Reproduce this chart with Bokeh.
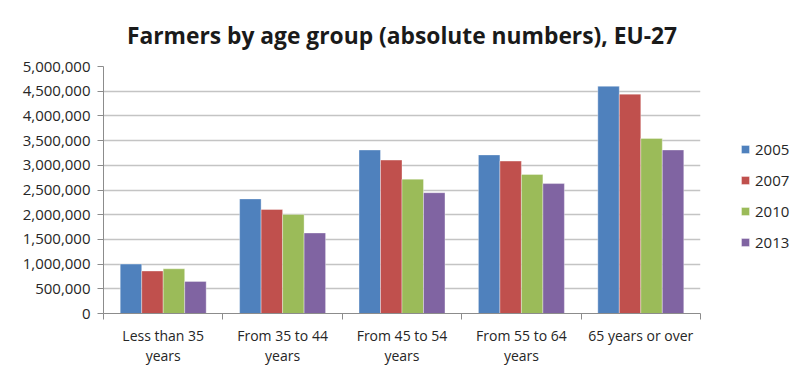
import numpy as np
from bokeh.plotting import figure
from bokeh.models import Range1d, FixedTicker, NumeralTickFormatter, Legend, LegendItem
from bokeh.embed import file_html
from bokeh.resources import INLINE

categories = ["Less than 35\nyears", "From 35 to 44\nyears", "From 45 to 54\nyears",
              "From 55 to 64\nyears", "65 years or over"]
years = ["2005", "2007", "2010", "2013"]
y2005 = [1000000, 2320000, 3310000, 3210000, 4600000]
y2007 = [860000, 2105000, 3105000, 3085000, 4440000]
y2010 = [905000, 2005000, 2720000, 2815000, 3545000]
y2013 = [650000, 1630000, 2445000, 2630000, 3310000]
y_ticks = [0, 500000, 1000000, 1500000, 2000000, 2500000, 3000000, 3500000, 4000000, 4500000, 5000000]

series = [y2005, y2007, y2010, y2013]
colors = ["#4F81BD", "#C0504D", "#9BBB59", "#8064A2"]
offsets = [-0.27, -0.09, 0.09, 0.27]

FONT = "Open Sans"

p = figure(frame_width=597, frame_height=247, output_backend="svg", toolbar_location=None,
           x_range=Range1d(0, len(categories)), y_range=Range1d(0, 5000000),
           min_border_left=103, min_border_top=66, min_border_bottom=54, min_border_right=100,
           title="Farmers by age group (absolute numbers), EU-27")
p.title.align = "center"
p.title.vertical_align = "top"
p.title.text_font = FONT
p.title.text_font_style = "bold"
p.title.text_font_size = "22.8px"
p.title.text_color = "#1a1a1a"
p.title.text_line_height = 0.7
p.title.standoff = 27

centers = np.arange(len(categories)) + 0.5
items = []
for yr, vals, col, off in zip(years, series, colors, offsets):
    r = p.vbar(x=centers + off, top=vals, width=0.18, fill_color=col,
               line_color="white", line_alpha=0.35, line_width=1)
    items.append(LegendItem(label=yr, renderers=[r]))

p.outline_line_color = None
p.xgrid.grid_line_color = None
p.ygrid.grid_line_color = "#c4c4c4"
p.ygrid.grid_line_width = 1.3

# y axis
p.yaxis.ticker = FixedTicker(ticks=y_ticks)
p.yaxis.formatter = NumeralTickFormatter(format="0,0")
p.yaxis.axis_line_color = "#8c8c8c"
p.yaxis.major_tick_line_color = "#8c8c8c"
p.yaxis.major_tick_out = 6
p.yaxis.major_tick_in = 0
p.yaxis.minor_tick_line_color = None
p.yaxis.major_label_text_font = FONT
p.yaxis.major_label_text_font_size = "15px"
p.yaxis.major_label_text_color = "#262626"
p.yaxis.major_label_standoff = 7

# x axis: labels at centres, tick marks at category boundaries
p.xaxis.ticker = FixedTicker(ticks=list(centers), minor_ticks=list(range(len(categories) + 1)))
p.xaxis.major_label_overrides = {float(c): lab for c, lab in zip(centers, categories)}
p.xaxis.axis_line_color = "#8c8c8c"
p.xaxis.major_tick_line_color = None
p.xaxis.minor_tick_line_color = "#8c8c8c"
p.xaxis.minor_tick_out = 6
p.xaxis.minor_tick_in = 0
p.xaxis.major_label_text_font = FONT
p.xaxis.major_label_text_font_size = "14px"
p.xaxis.major_label_text_color = "#262626"
p.xaxis.major_label_text_line_height = 1.1
p.xaxis.major_label_standoff = 6

legend = Legend(items=items, location=(40, 61), margin=0, padding=0,
                glyph_width=10, glyph_height=10, label_height=20, spacing=11,
                label_standoff=5, border_line_color=None, background_fill_alpha=0,
                label_text_font=FONT, label_text_font_size="15px", label_text_color="#262626")
p.add_layout(legend, "right")

open("out.html", "w").write(file_html(p, INLINE))
